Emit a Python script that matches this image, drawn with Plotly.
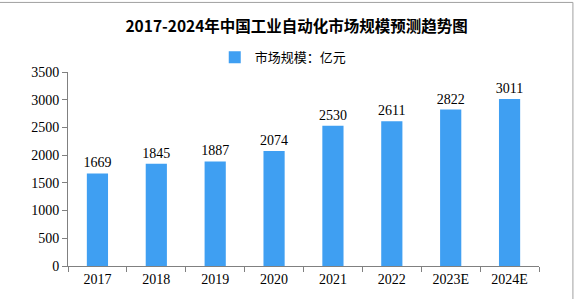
import plotly.graph_objects as go

years = ["2017", "2018", "2019", "2020", "2021", "2022", "2023E", "2024E"]
values = [1669, 1845, 1887, 2074, 2530, 2611, 2822, 3011]
y_ticks = [0, 500, 1000, 1500, 2000, 2500, 3000, 3500]

font_fam = "Liberation Serif, Noto Sans CJK SC, serif"

fig = go.Figure()
fig.add_trace(go.Bar(
    x=years, y=values, name="市场规模：亿元",
    marker=dict(color="#3f9ff2", line=dict(width=0)),
    width=0.36,
    text=[str(v) for v in values], textposition="outside",
    textfont=dict(size=14, color="#000000", family=font_fam),
    constraintext="none",
    cliponaxis=False,
))

fig.update_layout(
    width=584, height=299,
    margin=dict(l=68, r=45, t=72, b=29),
    paper_bgcolor="white", plot_bgcolor="white",
    title=dict(text="<b>2017-2024年中国工业自动化市场规模预测趋势图</b>",
               x=0.508, xanchor="center", y=0.91, yanchor="middle",
               font=dict(size=15.5, color="#000000", family="Noto Sans CJK SC, serif")),
    showlegend=True,
    legend=dict(orientation="h", x=0.457, xanchor="center", y=1.076,
                yanchor="middle", font=dict(size=13, color="#000000", family="Noto Sans CJK SC"),
                itemwidth=30),
    font=dict(family=font_fam, color="#000000"),
    xaxis=dict(showline=True, linecolor="#808080", linewidth=1,
               ticks="outside", tickcolor="#808080", ticklen=5,
               tickson="boundaries", showgrid=False,
               tickfont=dict(size=14, family=font_fam)),
    yaxis=dict(range=[0, 3500], tickvals=y_ticks, showline=True, linecolor="#808080",
               linewidth=1, ticks="outside", tickcolor="#808080", ticklen=5,
               showgrid=False, zeroline=False,
               tickfont=dict(size=14, family=font_fam)),
    shapes=[
        dict(type="line", xref="paper", yref="paper", x0=-0.145, x1=1.072, y0=1.3586, y1=1.3586,
             line=dict(color="#a0a0a0", width=1)),
        dict(type="line", xref="paper", yref="paper", x0=1.072, x1=1.072, y0=-0.2, y1=1.3586,
             line=dict(color="#a0a0a0", width=1)),
    ],
)

fig.write_html("out.html")
